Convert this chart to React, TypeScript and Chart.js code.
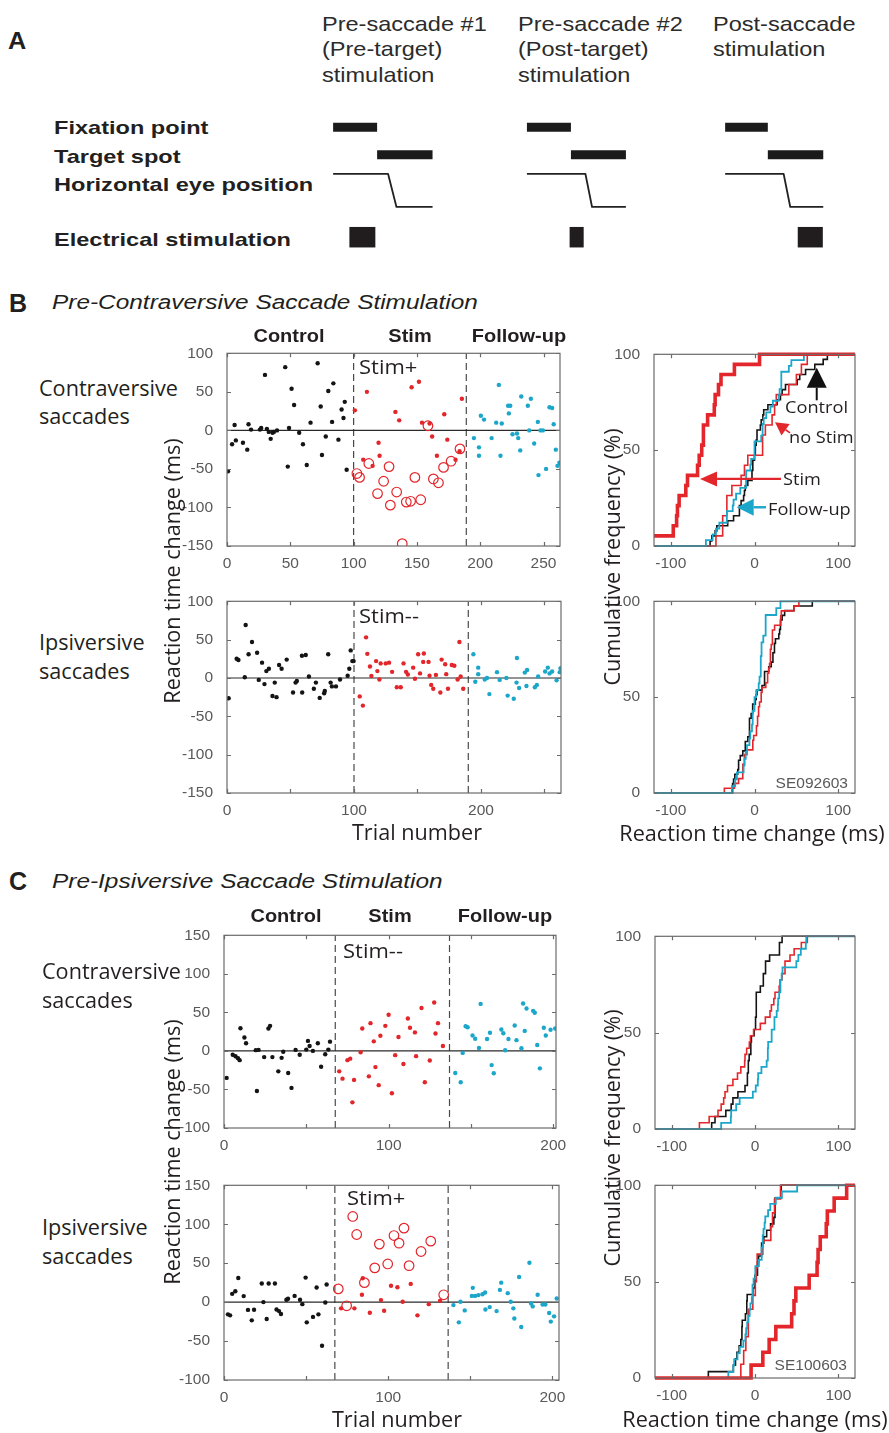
import React, { useEffect, useRef } from 'react';
import { Chart, registerables } from 'chart.js';

Chart.register(...registerables);

// ---------------- Panel A schematic (time in units of the fixation period) ----------------
const schemOffset = [0, 4.405, 8.91];
const fixationOff = [1.0, 1.0, 0.97];
const targetOff = [2.26, 2.25, 2.23];
const saccadeStart = [1.25, 1.33, 1.33];
const saccadeEnd = [1.44, 1.48, 1.48];
const stimOn = [0.37, 0.97, 1.65];
const stimOff = [0.96, 1.29, 2.22];
const rowFixation = 0;
const rowTarget = 1;
const rowEyeUp = 1.7;
const rowEyeDown = 2.9;
const rowStim = 4;

// ---------------- Panel B data: [trial, RT change ms] ----------------
const bContraControl = [[0.8,-53],[4,-18],[6,7],[7,-13],[12.6,-16],[16,-25],[17,8],[19,1],[26,1],[27,3],[30,72],[31.5,2],[33,-2],[34.5,-11],[36,-3],[37,-2],[39.5,0],[46,82],[48,-47],[49,3],[51,54],[53,33],[57,-3],[60,-18],[63,-45],[66,10],[71.6,87],[74,31],[75,-32],[78,-8],[80,51],[83,11],[84,61],[88,-12],[90.5,27],[92,16],[93,37],[94.5,-51]];
const bContraNoStim = [[101,26],[107.6,-38],[110.5,50],[115,-46],[119.7,-16],[120.5,-33],[133,24],[136,13],[145.8,56],[151.6,63],[154,10],[160,9],[162,-8],[165.8,-33],[171.6,21],[174,-12],[180.5,-38],[183.7,-27],[185.5,41]];
const bContraStim = [[102.6,-56],[104.7,-61],[112,-43],[118.9,-82],[123.7,-66],[128,-47],[129,-97],[134,-80],[138.4,-147],[141.6,-93],[145,-92],[148.4,-61],[153,-90],[158.7,6],[163,-63],[167,-68],[171,-48],[177,-40],[184,-24]];
const bContraFollow = [[195,-10],[199,-33],[199,-22],[200.5,19],[203,14],[209,-10],[212.6,10],[214.7,59],[216,-33],[217,9],[222,32],[223.7,32],[222.6,22],[225.5,-5],[229,-4],[230,-10],[231.6,-26],[232.4,44],[237.6,32],[238.7,0],[240,41],[242.6,-17],[245.5,11],[246,-58],[247.6,0],[249.5,0],[252,-50],[254.7,30],[256.8,29],[258,8],[259.7,-25],[261,-46],[262.5,-42]];

const bIpsiControl = [[1.3,-26.5],[7.6,25],[9,23.5],[14,1],[14.7,69],[17,31],[19.7,47],[23.7,33],[25,-2.5],[27.6,20],[29.5,-8],[31,9],[33,12],[35.8,-23.5],[37.6,-6],[39,-25],[41,17],[43,12],[47,24],[52,-19],[54,-6],[55,-4],[59,29],[59.2,-19],[62,30],[64.5,2],[68.4,-14],[70,-6],[73,-26],[76.5,-20],[77,-17],[79.7,31],[81.6,-6],[82.6,-11],[85.8,-11],[89,-2],[95,3],[96.3,12],[97.4,36],[98.7,22],[99.7,22]];
const bIpsiNoStim = [[104.5,-24],[107,-36],[109.5,53],[110.5,31.5],[112.6,15],[113.7,2.5],[117.4,22],[118.4,9],[120,-2],[121,19],[125,19],[127.6,20],[130,8],[133.7,-12],[136.8,-12],[139,19],[141,8],[142.4,4.6],[146.6,13.5],[148,-1],[150.5,31],[152,6],[154.5,21],[155,32],[158.7,21],[159.5,3],[160.8,-9],[162.4,-14],[164.5,4],[168,-19],[169,24],[171.8,18],[172.6,5],[174,-14],[177,17],[179,16],[181.6,-2],[183,47],[184,2],[186,-14]];
const bIpsiFollow = [[194,31],[195.5,-5],[197.8,13.5],[197.8,5],[203,-2],[204.7,0],[206.6,-21],[212.6,7.6],[214.7,-2.5],[220,0],[221,-23],[225.8,-27],[228,-6],[228.3,26],[230,-13],[234.5,7],[236.3,10.5],[235.8,-10.5],[242.4,-12],[244,-9],[245,2],[250.5,8.4],[252.6,13.5],[254,6],[256,8.4],[259.5,-3],[262,7.6],[262.6,12.6]];

// ---------------- Panel C data ----------------
const cContraControl = [[1.6,-35],[5.3,-5],[7,-7],[8.5,-9.4],[9.5,-12],[10,29.5],[12.4,17.5],[13.4,10],[19.3,1],[20,-52],[21,1.3],[24.4,-8],[27,29],[28,32.5],[29.4,-8],[33,-26.5],[35,-9],[36,-1],[39,-28.6],[41,-48],[43.5,1.3],[46,-5],[50,1.7],[51,13],[52,6.4],[54,0],[57,10],[59,-20.5],[61.5,-4.3],[63.4,1.7],[64.4,12]];
const cContraNoStim = [[70,-26.5],[72,-36],[75,-12],[76.7,-10],[78,-66.7],[79,-37.6],[83,-1.7],[84,29],[88,-33],[89,36],[91,12.4],[92,-21],[94,-44.4],[95,19.7],[98,32.5],[100,47],[102,-55],[104,-5.5],[106,18],[109,-17],[111.7,42],[113,30],[116,24],[116.7,-6.8],[120,55.6],[122,-40.6],[125,-12.4],[127.7,62.8],[128.5,22.6],[130,36],[133,6.4]];
const cContraFollow = [[140.5,-28.6],[143.8,-40.6],[145,-2.6],[146.8,32],[148,30.8],[151,20],[152.6,15.8],[154.9,3.8],[155.9,61],[159.8,15.4],[161.6,23.5],[162.6,-18.4],[163.9,-29],[168.5,27.8],[169.7,23],[170.8,0.9],[172.8,15.4],[176.6,33],[177.7,14],[180.7,3.4],[181.7,61.5],[182.7,26],[183.8,55],[187.8,52],[188.8,49.6],[190.3,7.7],[191.9,-22.6],[194.3,30],[195.5,20],[198.4,27.4],[201.2,29]];

const cIpsiControl = [[2.4,-15.7],[3.7,-17],[5,10.6],[6.9,14],[8.7,31],[12,7.7],[14.6,-10],[16.9,-23.4],[18.3,-9.8],[23,24],[24,0],[26,-21.7],[27.2,24],[31,24],[32,-9.4],[33.5,-11.5],[34.7,-15.3],[38,3],[39,4.3],[43,8],[46.3,3],[47.7,-2.6],[49.7,31.5],[50.4,-26],[54.2,-19],[56.4,18.7],[57.5,-15.7],[59.7,-56],[61.7,-0.4],[62.5,22.6]];
const cIpsiNoStim = [[71.3,-8],[79.4,-8],[84,9.4],[84.5,30.6],[88.8,-13.6],[95.6,2.6],[97.5,-11],[101.7,21],[105.6,19],[108.8,0.4],[113.7,23.4],[117.8,-17],[124.7,-2.6],[131.6,1.7]];
const cIpsiStim = [[69.6,17],[74.7,-4.7],[78.4,110],[80.8,86.8],[85.5,25],[91.8,44],[94.6,74.5],[99.7,49],[103.5,85.5],[106.6,75.7],[109.6,95],[112.7,46.8],[120,65],[125.9,78.3],[133.8,9.4]];
const cIpsiFollow = [[139.7,-3.8],[143,-26],[144,0.4],[146.6,-10.6],[150.9,8],[151.5,18.3],[152.9,8],[154.9,9],[157.4,10.2],[159,12.3],[159.2,-9.4],[161.8,-6.4],[166,-11.5],[168,15.7],[168.8,25],[172.8,11.5],[174.6,0.4],[176.2,-8],[176.8,-21],[179.7,32.3],[181,-32],[186,50.6],[187,-1.7],[188,-5.5],[191,9.4],[194,-3],[195.7,-3],[198,-14],[199,-25],[201,-18.3],[202.6,4.7]];

// epoch boundaries (trial numbers)
const bContraBounds = [100, 189];
const bIpsiBounds = [100, 190];
const cContraBounds = [67.6, 137];
const cIpsiBounds = [67.5, 136.5];

// ---------------- Axis ticks ----------------
const rtTicksB = [-150, -100, -50, 0, 50, 100];
const rtTicksC = [-100, -50, 0, 50, 100, 150];
const trialTicks = [0, 50, 100, 150, 200, 250];
const trialLabelsFifty = [0, 50, 100, 150, 200, 250];
const trialLabelsHundred = [0, 100, 200];
const cdfXTicks = [-100, 0, 100];
const cdfYTicks = [0, 50, 100];

// ---------------- Styles ----------------
const RED = '#e3262b';
const CYAN = '#1ca7ca';
const BLACK = '#141414';
const INK = '#231f20';
const FRAME = '#6b6b6b';
const TICK_TEXT = '#595959';
const SANS = '"Liberation Sans", Arial, Helvetica, sans-serif';
const HUM = '"Open Sans", "Noto Sans", sans-serif';

const PAD_L = 48, PAD_T = 12, PAD_R = 16, PAD_B = 28;

type Box = { L: number; T: number; R: number; B: number };

const toXY = (a: number[][]) => a.map(([x, y]) => ({ x, y }));

function ecdf(a: number[][], lo: number, hi: number) {
  const v = a.map((p) => p[1]).sort((p, q) => p - q);
  const n = v.length;
  const out = [{ x: lo, y: 0 }];
  v.forEach((val, i) => {
    out.push({ x: val, y: (100 * i) / n });
    out.push({ x: val, y: (100 * (i + 1)) / n });
  });
  out.push({ x: hi, y: 100 });
  return out;
}

const framePlugin = {
  id: 'matlabFrame',
  afterDatasetsDraw(chart: any) {
    const { ctx, chartArea: a, scales } = chart;
    const x = scales.x, y = scales.y;
    ctx.save();
    ctx.strokeStyle = FRAME;
    ctx.lineWidth = 1.2;
    ctx.strokeRect(a.left, a.top, a.right - a.left, a.bottom - a.top);
    const L = 4;
    ctx.beginPath();
    x.ticks.forEach((t: any) => {
      const px = Math.round(x.getPixelForValue(t.value)) + 0.5;
      ctx.moveTo(px, a.bottom); ctx.lineTo(px, a.bottom - L);
      ctx.moveTo(px, a.top); ctx.lineTo(px, a.top + L);
    });
    y.ticks.forEach((t: any) => {
      const py = Math.round(y.getPixelForValue(t.value)) + 0.5;
      ctx.moveTo(a.left, py); ctx.lineTo(a.left + L, py);
      ctx.moveTo(a.right, py); ctx.lineTo(a.right - L, py);
    });
    ctx.stroke();
    ctx.restore();
  },
};

type Arrow = { from: number[]; to: number[]; color: string; width: number; head: number; half: number };

function arrowPlugin(items: Arrow[]) {
  return {
    id: 'arrows',
    afterDatasetsDraw(chart: any) {
      const { ctx, scales } = chart;
      const x = scales.x, y = scales.y;
      ctx.save();
      items.forEach((a) => {
        const x1 = x.getPixelForValue(a.from[0]), y1 = y.getPixelForValue(a.from[1]);
        const x2 = x.getPixelForValue(a.to[0]), y2 = y.getPixelForValue(a.to[1]);
        const ang = Math.atan2(y2 - y1, x2 - x1);
        const bx = x2 - a.head * Math.cos(ang), by = y2 - a.head * Math.sin(ang);
        ctx.strokeStyle = a.color;
        ctx.fillStyle = a.color;
        ctx.lineWidth = a.width;
        ctx.beginPath(); ctx.moveTo(x1, y1); ctx.lineTo(bx, by); ctx.stroke();
        ctx.beginPath();
        ctx.moveTo(x2, y2);
        ctx.lineTo(bx + a.half * Math.sin(ang), by - a.half * Math.cos(ang));
        ctx.lineTo(bx - a.half * Math.sin(ang), by + a.half * Math.cos(ang));
        ctx.closePath(); ctx.fill();
      });
      ctx.restore();
    },
  };
}

function axis(min: number, max: number, ticks: number[], labels: number[], isX: boolean) {
  return {
    type: 'linear',
    min, max,
    afterFit: (s: any) => { if (isX) s.height = PAD_B; else s.width = PAD_L; },
    afterBuildTicks: (s: any) => { s.ticks = ticks.map((v) => ({ value: v })); },
    grid: { display: false },
    border: { display: false },
    ticks: {
      autoSkip: false, maxRotation: 0, minRotation: 0,
      padding: isX ? 0 : 6,
      color: TICK_TEXT,
      font: { family: SANS, size: 15.5 },
      callback: (v: any) => (labels.includes(Number(v)) ? String(v) : ''),
    },
  };
}

function baseOptions(x: any, y: any) {
  return {
    animation: false,
    responsive: false,
    events: [],
    layout: { padding: { top: PAD_T, right: PAD_R, left: 0, bottom: 0 } },
    plugins: { legend: { display: false }, tooltip: { enabled: false } },
    scales: { x, y },
  };
}

const dots = (a: number[][], c: string) => ({ data: toXY(a), pointRadius: 2.2, pointBackgroundColor: c, pointBorderWidth: 0, showLine: false, order: 1 });
const rings = (a: number[][]) => ({ data: toXY(a), pointRadius: 4.8, pointBackgroundColor: 'rgba(0,0,0,0)', pointBorderColor: RED, pointBorderWidth: 1.2, showLine: false, order: 0 });
const seg = (d: any[], c: string, w: number, dash: number[]) => ({ data: d, showLine: true, borderColor: c, borderWidth: w, borderDash: dash, pointRadius: 0, order: 5 });

function scatterConfig(o: any) {
  const ds: any[] = [dots(o.control, BLACK), dots(o.noStim, RED)];
  if (o.stim) ds.push(rings(o.stim));
  ds.push(dots(o.follow, CYAN));
  ds.push(seg([{ x: 0, y: 0 }, { x: o.xMax, y: 0 }], '#2a2a2a', 1.2, []));
  o.bounds.forEach((b: number) => ds.push(seg([{ x: b, y: o.yMin }, { x: b, y: o.yMax }], '#4a4a4a', 1.2, [7, 4])));
  return {
    type: 'scatter',
    data: { datasets: ds },
    options: baseOptions(axis(0, o.xMax, o.xTicks, o.xLabels, true), axis(o.yMin, o.yMax, o.yTicks, o.yTicks, false)),
    plugins: [framePlugin],
  };
}

const CDF_LO = -160, CDF_HI = 160;
const cdfLine = (a: number[][], c: string, w: number, order: number) => ({
  data: ecdf(a, CDF_LO, CDF_HI), showLine: true, borderColor: c, borderWidth: w, pointRadius: 0, order,
  borderJoinStyle: 'miter', clip: { left: 0, right: 0, top: 3, bottom: 3 },
});

function cdfConfig(o: any) {
  const ds: any[] = [cdfLine(o.control, BLACK, 1.6, 4), cdfLine(o.noStim, RED, 1.6, 3), cdfLine(o.follow, CYAN, 1.8, 2)];
  if (o.stim) ds.push(cdfLine(o.stim, RED, 3.6, 1));
  const plugins: any[] = [framePlugin];
  if (o.arrows) plugins.push(arrowPlugin(o.arrows));
  return {
    type: 'scatter',
    data: { datasets: ds },
    options: baseOptions(axis(-120, 120, cdfXTicks, cdfXTicks, true), axis(0, 100, cdfYTicks, cdfYTicks, false)),
    plugins,
  };
}

// annotation arrows of the first CDF (data coordinates: RT ms, %)
const bTopArrows: Arrow[] = [
  { from: [74.3, 76], to: [74.3, 93], color: '#111', width: 2, head: 20, half: 10 },
  { from: [42.4, 59], to: [24.5, 64.6], color: RED, width: 1.6, head: 13, half: 7 },
  { from: [31.6, 35], to: [-65, 35], color: RED, width: 2.4, head: 17, half: 7.5 },
  { from: [13.7, 20.2], to: [-21.3, 20.2], color: CYAN, width: 2.4, head: 17, half: 8.5 },
];

function schematicConfig() {
  const ds: any[] = [];
  const bar = (pts: any[], w: number, c = '#1b1b1b') => ({ data: pts, showLine: true, borderColor: c, borderWidth: w, pointRadius: 0, borderCapStyle: 'butt', borderJoinStyle: 'round' });
  schemOffset.forEach((o, i) => {
    ds.push(bar([{ x: o, y: rowFixation }, { x: o + fixationOff[i], y: rowFixation }], 9));
    ds.push(bar([{ x: o + fixationOff[i], y: rowTarget }, { x: o + targetOff[i], y: rowTarget }], 9));
    ds.push(bar([
      { x: o, y: rowEyeUp }, { x: o + saccadeStart[i], y: rowEyeUp },
      { x: o + saccadeEnd[i], y: rowEyeDown }, { x: o + targetOff[i], y: rowEyeDown },
    ], 1.8, '#222'));
    ds.push(bar([{ x: o + stimOn[i], y: rowStim }, { x: o + stimOff[i], y: rowStim }], 20.5, '#211d1e'));
  });
  return {
    type: 'scatter',
    data: { datasets: ds },
    options: {
      animation: false, responsive: false, events: [],
      layout: { padding: 0 },
      plugins: { legend: { display: false }, tooltip: { enabled: false } },
      scales: {
        x: { type: 'linear', display: false, min: -0.298, max: 11.975 },
        y: { type: 'linear', display: false, min: -0.6255, max: 4.829, reverse: true },
      },
    },
  };
}

function ChartCanvas({ box, make, raw = false }: { box: Box; make: () => any; raw?: boolean }) {
  const ref = useRef<HTMLCanvasElement>(null);
  const left = raw ? box.L : box.L - PAD_L;
  const top = raw ? box.T : box.T - PAD_T;
  const w = raw ? box.R - box.L : box.R - box.L + PAD_L + PAD_R;
  const h = raw ? box.B - box.T : box.B - box.T + PAD_T + PAD_B;
  useEffect(() => {
    const chart = new Chart(ref.current as HTMLCanvasElement, make());
    return () => chart.destroy();
  }, []);
  return <canvas ref={ref} width={w} height={h} style={{ position: 'absolute', left, top, width: w, height: h }} />;
}

function Label(p: { x: number; y: number; text: string; size: number; weight?: number; italic?: boolean; family?: string; color?: string; sx?: number; anchor?: string; rot?: boolean }) {
  const { x, y, text, size, weight = 400, italic = false, family = HUM, color = INK, sx = 1, anchor = 'left', rot = false } = p;
  const inner: any = {
    position: 'absolute', top: 0, whiteSpace: 'nowrap', lineHeight: 1, fontSize: size,
    fontWeight: weight, fontStyle: italic ? 'italic' : 'normal', fontFamily: family, color,
  };
  if (rot) { inner.left = 0; inner.transform = `translate(-50%,-50%) rotate(-90deg) scaleX(${sx})`; }
  else if (anchor === 'center') { inner.left = 0; inner.transform = `translate(-50%,-50%) scaleX(${sx})`; }
  else if (anchor === 'right') { inner.right = 0; inner.transform = `translateY(-50%) scaleX(${sx})`; inner.transformOrigin = 'right center'; }
  else { inner.left = 0; inner.transform = `translateY(-50%) scaleX(${sx})`; inner.transformOrigin = 'left center'; }
  return (
    <div style={{ position: 'absolute', left: x, top: y, width: 0, height: 0 }}>
      <span style={inner}>{text}</span>
    </div>
  );
}

export default function App() {
  const hdr = { size: 21, family: SANS, sx: 1.12, color: '#2b2b2b' };
  const row = { size: 19, family: SANS, weight: 700, sx: 1.24 };
  const colT = { size: 18.5, family: SANS, weight: 700, sx: 1.08, anchor: 'center' };
  const side = { size: 21, sx: 1.03 };
  const axT = { size: 21, sx: 1.03 };
  const stimT = { size: 20, sx: 1.1 };
  const noteT = { size: 17, sx: 1.07 };
  return (
    <div style={{ position: 'absolute', left: 0, top: 0, width: 889, height: 1433, background: '#fff', overflow: 'hidden' }}>
      {/* Panel A */}
      <ChartCanvas box={{ L: 320, T: 110, R: 860, B: 260 }} make={schematicConfig} raw />

      {/* Panel B */}
      <ChartCanvas box={{ L: 227, T: 350, R: 560, B: 546 }} make={() => scatterConfig({ control: bContraControl, noStim: bContraNoStim, stim: bContraStim, follow: bContraFollow, bounds: bContraBounds, xMax: 263, yMin: -150, yMax: 100, xTicks: trialTicks, xLabels: trialLabelsFifty, yTicks: rtTicksB })} />
      <ChartCanvas box={{ L: 227, T: 598, R: 561, B: 793 }} make={() => scatterConfig({ control: bIpsiControl, noStim: bIpsiNoStim, follow: bIpsiFollow, bounds: bIpsiBounds, xMax: 263, yMin: -150, yMax: 100, xTicks: trialTicks, xLabels: trialLabelsHundred, yTicks: rtTicksB })} />
      <ChartCanvas box={{ L: 654, T: 351, R: 855, B: 546 }} make={() => cdfConfig({ control: bContraControl, noStim: bContraNoStim, stim: bContraStim, follow: bContraFollow, arrows: bTopArrows })} />
      <ChartCanvas box={{ L: 654, T: 598, R: 855, B: 793 }} make={() => cdfConfig({ control: bIpsiControl, noStim: bIpsiNoStim, follow: bIpsiFollow })} />

      {/* Panel C */}
      <ChartCanvas box={{ L: 224, T: 932, R: 556, B: 1128 }} make={() => scatterConfig({ control: cContraControl, noStim: cContraNoStim, follow: cContraFollow, bounds: cContraBounds, xMax: 201.7, yMin: -100, yMax: 150, xTicks: trialTicks.slice(0, 5), xLabels: trialLabelsHundred, yTicks: rtTicksC })} />
      <ChartCanvas box={{ L: 224, T: 1182, R: 559, B: 1380 }} make={() => scatterConfig({ control: cIpsiControl, noStim: cIpsiNoStim, stim: cIpsiStim, follow: cIpsiFollow, bounds: cIpsiBounds, xMax: 204, yMin: -100, yMax: 150, xTicks: trialTicks.slice(0, 5), xLabels: trialLabelsHundred, yTicks: rtTicksC })} />
      <ChartCanvas box={{ L: 655, T: 933, R: 855, B: 1129 }} make={() => cdfConfig({ control: cContraControl, noStim: cContraNoStim, follow: cContraFollow })} />
      <ChartCanvas box={{ L: 655, T: 1182, R: 855, B: 1378 }} make={() => cdfConfig({ control: cIpsiControl, noStim: cIpsiNoStim, stim: cIpsiStim, follow: cIpsiFollow })} />

      {/* Panel A text */}
      <Label x={8} y={41} text="A" size={23} weight={700} family={SANS} sx={1.1} />
      <Label x={322} y={22.5} text="Pre-saccade #1" {...hdr} />
      <Label x={322} y={48} text="(Pre-target)" {...hdr} />
      <Label x={322} y={73.5} text="stimulation" {...hdr} />
      <Label x={518} y={22.5} text="Pre-saccade #2" {...hdr} />
      <Label x={518} y={48} text="(Post-target)" {...hdr} />
      <Label x={518} y={73.5} text="stimulation" {...hdr} />
      <Label x={713} y={22.5} text="Post-saccade" {...hdr} />
      <Label x={713} y={48} text="stimulation" {...hdr} />
      <Label x={54} y={126.5} text="Fixation point" {...row} />
      <Label x={54} y={156} text="Target spot" {...row} />
      <Label x={54} y={183.5} text="Horizontal eye position" {...row} />
      <Label x={54} y={239} text="Electrical stimulation" {...row} />

      {/* Panel B text */}
      <Label x={9} y={303} text="B" size={25} weight={700} family={SANS} />
      <Label x={52} y={302} text="Pre-Contraversive Saccade Stimulation" size={20} italic family={SANS} sx={1.22} />
      <Label x={288.8} y={336} text="Control" {...colT} />
      <Label x={409.5} y={336} text="Stim" {...colT} />
      <Label x={519.2} y={336} text="Follow-up" {...colT} />
      <Label x={39} y={387.5} text="Contraversive" {...side} />
      <Label x={39} y={416} text="saccades" {...side} />
      <Label x={39} y={642} text="Ipsiversive" {...side} />
      <Label x={39} y={671} text="saccades" {...side} />
      <Label x={172} y={571} text="Reaction time change (ms)" {...axT} rot />
      <Label x={612} y={557} text="Cumulative frequency (%)" {...axT} rot />
      <Label x={417} y={832} text="Trial number" {...axT} anchor="center" />
      <Label x={752} y={833} text="Reaction time change (ms)" {...axT} anchor="center" />
      <Label x={359} y={367} text="Stim+" {...stimT} />
      <Label x={359} y={616} text="Stim--" {...stimT} />
      <Label x={785} y={406} text="Control" {...noteT} />
      <Label x={789} y={436} text="no Stim" {...noteT} />
      <Label x={782.5} y={477.5} text="Stim" {...noteT} />
      <Label x={767.5} y={507.5} text="Follow-up" {...noteT} />
      <Label x={848} y={783} text="SE092603" size={15.5} family={SANS} color={TICK_TEXT} anchor="right" />

      {/* Panel C text */}
      <Label x={9} y={881} text="C" size={25} weight={700} family={SANS} />
      <Label x={52} y={881} text="Pre-Ipsiversive Saccade Stimulation" size={20} italic family={SANS} sx={1.22} />
      <Label x={286} y={916.3} text="Control" {...colT} />
      <Label x={389.5} y={916.3} text="Stim" {...colT} />
      <Label x={505.2} y={916.3} text="Follow-up" {...colT} />
      <Label x={42} y={971} text="Contraversive" {...side} />
      <Label x={42} y={999.5} text="saccades" {...side} />
      <Label x={42} y={1227} text="Ipsiversive" {...side} />
      <Label x={42} y={1256} text="saccades" {...side} />
      <Label x={172} y={1152} text="Reaction time change (ms)" {...axT} rot />
      <Label x={612} y={1137.5} text="Cumulative frequency (%)" {...axT} rot />
      <Label x={397} y={1419} text="Trial number" {...axT} anchor="center" />
      <Label x={754.5} y={1419} text="Reaction time change (ms)" {...axT} anchor="center" />
      <Label x={343} y={951} text="Stim--" {...stimT} />
      <Label x={347} y={1198} text="Stim+" {...stimT} />
      <Label x={847} y={1365} text="SE100603" size={15.5} family={SANS} color={TICK_TEXT} anchor="right" />
    </div>
  );
}
